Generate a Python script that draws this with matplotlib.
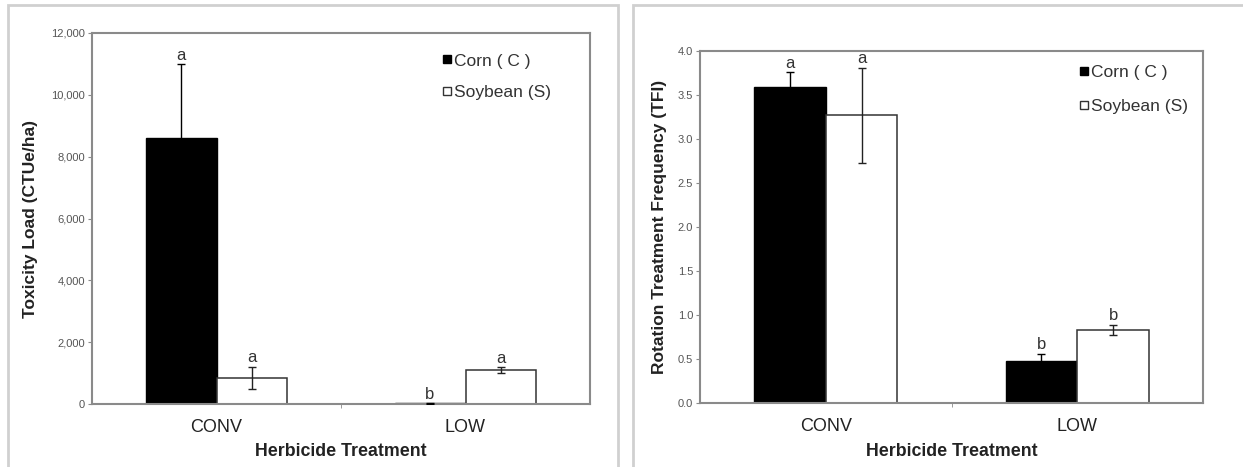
import matplotlib
matplotlib.use("Agg")
import matplotlib.pyplot as plt
from matplotlib.patches import Rectangle
from matplotlib.lines import Line2D
from matplotlib.ticker import FuncFormatter, FixedLocator
import numpy as np

plt.rcParams['font.family'] = ['Liberation Sans', 'DejaVu Sans']

treatments = ["CONV", "LOW"]
series_names = ["Corn ( C )", "Soybean (S)"]

# toxicity load, CTUe/ha
tox_corn = [8600, 20]
tox_corn_err = [2400, 10]
tox_soy = [850, 1100]
tox_soy_err = [360, 100]
tox_corn_letters = ["a", "b"]
tox_soy_letters = ["a", "a"]

# treatment frequency index
tfi_corn = [3.59, 0.48]
tfi_corn_err = [0.17, 0.08]
tfi_soy = [3.27, 0.83]
tfi_soy_err = [0.54, 0.06]
tfi_corn_letters = ["a", "b"]
tfi_soy_letters = ["a", "b"]

W, H = 1243, 467
fig = plt.figure(figsize=(W / 100, H / 100), dpi=100)

# light gray panel frames
for x0, x1 in [(8, 618), (633, 1250)]:
    fig.patches.append(Rectangle((x0 / W, -10 / H), (x1 - x0) / W, (H + 5) / H,
                                 transform=fig.transFigure, fill=False,
                                 edgecolor="#d0d0d0", linewidth=2))

spine_col = "#8a8a8a"
width = 0.285


def draw_panel(ax, corn, corn_err, soy, soy_err, corn_lab, soy_lab,
               ylim, yticks, fmt, ylabel, ylabel_x, xlabel_y, legend_xy, legend_gap):
    x = np.arange(len(treatments))
    ax.bar(x - width / 2, corn, width, color="black", edgecolor="black", linewidth=1, zorder=2)
    ax.bar(x + width / 2, soy, width, color="white", edgecolor="#333333", linewidth=1.1, zorder=2)
    ax.errorbar(x - width / 2, corn, yerr=corn_err, fmt="none", ecolor="black",
                elinewidth=1, capsize=3, capthick=1, zorder=3)
    ax.errorbar(x + width / 2, soy, yerr=soy_err, fmt="none", ecolor="#222222",
                elinewidth=1, capsize=3, capthick=1, zorder=3)
    for xi, v, e, t in zip(x - width / 2, corn, corn_err, corn_lab):
        ax.annotate(t, (xi, v + e), xytext=(0, 1), textcoords="offset points",
                    ha="center", va="bottom", fontsize=12, color="#333333")
    for xi, v, e, t in zip(x + width / 2, soy, soy_err, soy_lab):
        ax.annotate(t, (xi, v + e), xytext=(0, 1), textcoords="offset points",
                    ha="center", va="bottom", fontsize=12, color="#333333")

    ax.set_xlim(-0.5, 1.5)
    ax.set_ylim(*ylim)
    ax.set_yticks(yticks)
    ax.yaxis.set_major_formatter(FuncFormatter(fmt))
    ax.tick_params(axis="y", length=3, color=spine_col, labelsize=8,
                   labelcolor="#555555", pad=2)
    ax.set_xticks(x)
    ax.set_xticklabels(treatments)
    ax.tick_params(axis="x", which="major", length=0, labelsize=13,
                   labelcolor="#222222", pad=11)
    ax.xaxis.set_minor_locator(FixedLocator([0.5]))
    ax.tick_params(axis="x", which="minor", length=3, color=spine_col)
    for s in ax.spines.values():
        s.set_color(spine_col)
        s.set_linewidth(1.5)

    ax.set_ylabel(ylabel, fontsize=12.5, fontweight="bold", color="#222222")
    ax.yaxis.set_label_coords(ylabel_x, 0.5)
    ax.set_xlabel("Herbicide Treatment", fontsize=12.8, fontweight="bold", color="#222222")
    ax.xaxis.set_label_coords(0.5, xlabel_y)

    handles = [Line2D([], [], marker="s", linestyle="none", markersize=6,
                      markerfacecolor="black", markeredgecolor="black"),
               Line2D([], [], marker="s", linestyle="none", markersize=6,
                      markerfacecolor="white", markeredgecolor="#333333")]
    leg = ax.legend(handles, series_names, loc="upper left", bbox_to_anchor=legend_xy,
                    frameon=False, fontsize=12.5, handlelength=0.5, handletextpad=0.15,
                    labelspacing=legend_gap, borderaxespad=0, borderpad=0)
    for t in leg.get_texts():
        t.set_color("#333333")


ax1 = fig.add_axes([92 / W, 1 - 404 / H, 498 / W, 371 / H])
draw_panel(ax1, tox_corn, tox_corn_err, tox_soy, tox_soy_err,
           tox_corn_letters, tox_soy_letters,
           (0, 12000), np.arange(0, 12001, 2000), lambda v, p: f"{v:,.0f}",
           "Toxicity Load (CTUe/ha)", -0.108, -0.105, (0.705, 0.945), 0.95)

ax2 = fig.add_axes([700 / W, 1 - 403 / H, 503 / W, 352 / H])
draw_panel(ax2, tfi_corn, tfi_corn_err, tfi_soy, tfi_soy_err,
           tfi_corn_letters, tfi_soy_letters,
           (0, 4.0), np.arange(0, 4.01, 0.5), lambda v, p: f"{v:.1f}",
           "Rotation Treatment Frequency (TFI)", -0.066, -0.114, (0.755, 0.96), 1.1)

fig.savefig("out.png", dpi=100)
